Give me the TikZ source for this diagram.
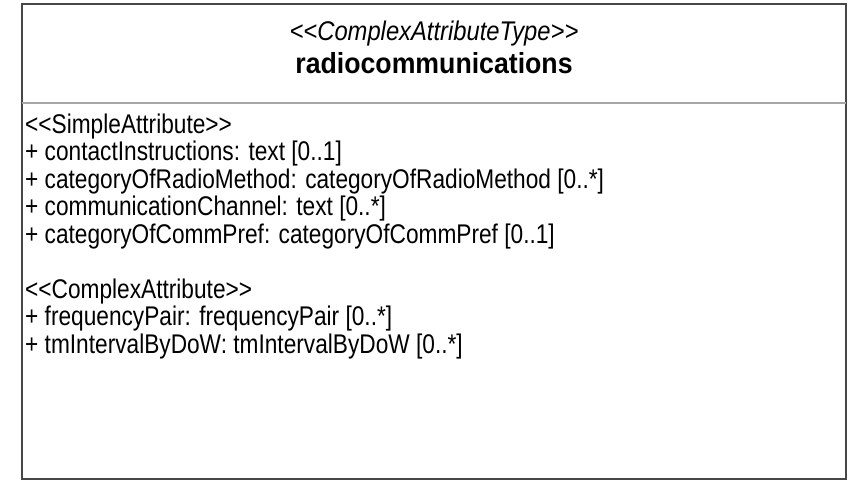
\documentclass[tikz,border=0pt]{standalone}
\usepackage{fontspec}
\setmainfont{Liberation Sans}
\newfontfamily\bodyfont{Liberation Sans}[FakeStretch=0.84]
\newfontfamily\stereofont{Liberation Sans}[FakeStretch=0.88]
\newfontfamily\namefont{Liberation Sans}[FakeStretch=0.92]
\usepackage{tikz}
\usetikzlibrary{positioning}

\begin{document}
\begin{tikzpicture}[
    x=1pt, y=-1pt,
    border/.style={draw=black!72, line width=2.5pt},
    divider/.style={draw=black!35, line width=1.8pt},
    label/.style={inner sep=0pt, anchor=base},
    attr/.style={inner sep=0pt, anchor=base west, font=\bodyfont\fontsize{27}{30}\selectfont}
]
    \useasboundingbox (0,0) rectangle (848,482);

    % Class box
    \coordinate (nw) at (22,4);
    \coordinate (se) at (846,479);
    \coordinate (divl) at (22,103);
    \coordinate (divr) at (846,103);
    \draw[border] (nw) rectangle (se);
    \draw[divider] (divl) -- (divr);

    % Header: stereotype and name
    \node[label, font=\stereofont\fontsize{27}{30}\selectfont\itshape] (stereo) at (434,40) {<{}<ComplexAttributeType>{}>};
    \node[label, font=\namefont\fontsize{29}{32}\selectfont\bfseries] (name) at (434,73) {radiocommunications};

    % Attributes
    \foreach \txt [count=\i] in {
        {<{}<SimpleAttribute>{}>},
        {+ contactInstructions: text [0..1]},
        {+ categoryOfRadioMethod: categoryOfRadioMethod [0..*]},
        {+ communicationChannel: text [0..*]},
        {+ categoryOfCommPref: categoryOfCommPref [0..1]},
        {},
        {<{}<ComplexAttribute>{}>},
        {+ frequencyPair: frequencyPair [0..*]},
        {+ tmIntervalByDoW: tmIntervalByDoW [0..*]}}
    {
        \node[attr] (a\i) at (25,{133+(\i-1)*27.5}) {\txt};
    }
\end{tikzpicture}
\end{document}
